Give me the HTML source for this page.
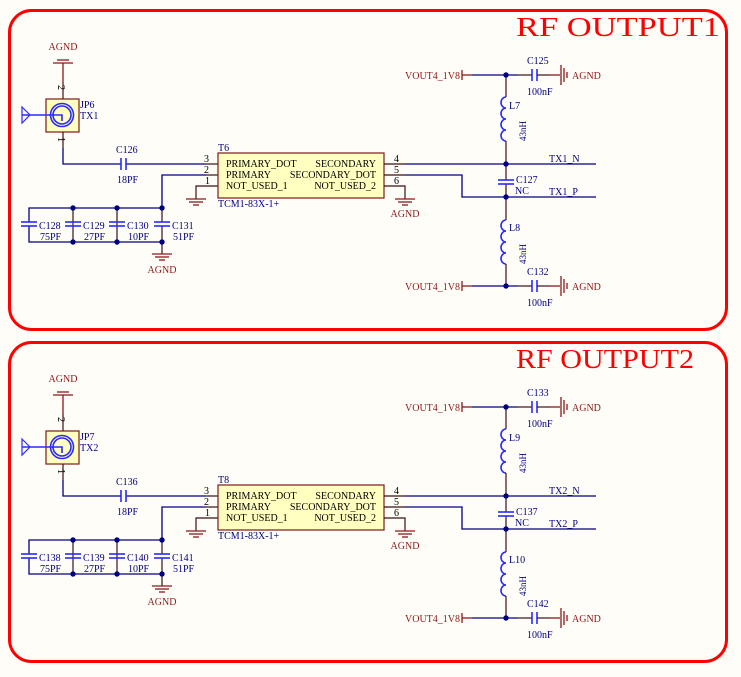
<!DOCTYPE html>
<html><head><meta charset="utf-8"><style>
html,body{margin:0;padding:0;background:#fffdf8;}
svg{display:block;font-family:"Liberation Serif",serif;}
.w{stroke:#000080;stroke-width:1.3;fill:none}
.p{stroke:#3a1010;stroke-width:1.2;fill:none}
.c{stroke:#2a2aff;stroke-width:1.6;fill:none}
.g{stroke:#8b1a1a;stroke-width:1.3;fill:none}
.t{fill:#000080;font-size:10px}
.r{fill:#8b1a1a;font-size:10px}
.k{fill:#000;font-size:10px}
.j{fill:#000080}
</style></head><body>
<svg width="741" height="677" viewBox="0 0 741 677">
<defs>
<g id="sec">
<text class="r" x="63" y="50" text-anchor="middle">AGND</text>
<line class="g" x1="53" y1="63" x2="73" y2="63"/>
<line class="g" x1="57" y1="60" x2="69" y2="60"/>
<line class="g" x1="63" y1="63" x2="63" y2="82"/>
<line class="p" x1="63" y1="82" x2="63" y2="99"/>
<text class="k" x="0" y="0" font-size="8" transform="translate(58,85) rotate(90)">2</text>
<rect x="46" y="99" width="33" height="33" fill="#ffffc0" stroke="#7a1a1a" stroke-width="1.2"/>
<circle cx="62" cy="115" r="11.5" class="c"/>
<circle cx="62" cy="115" r="9" class="c" stroke-width="1.2"/>
<polyline class="c" stroke-width="1.2" points="22,115 62,115 62,121"/>
<polygon points="22,107 30,115 22,123" fill="none" stroke="#2a2aff" stroke-width="1.2"/>
<line class="p" x1="63" y1="132" x2="63" y2="148"/>
<text class="k" x="0" y="0" font-size="8" transform="translate(58,137) rotate(90)">1</text>
<polyline class="w" points="63,148 63,164 121,164"/>
<line class="w" x1="126" y1="164" x2="206" y2="164"/>
<line class="c" x1="121" y1="158" x2="121" y2="170"/>
<line class="c" x1="126" y1="158" x2="126" y2="170"/>
<line class="p" x1="206" y1="164" x2="218" y2="164"/>
<text class="k" x="204" y="162">3</text>
<polyline class="w" points="162,208 162,175 206,175"/>
<line class="p" x1="206" y1="175" x2="218" y2="175"/>
<text class="k" x="204" y="173">2</text>
<polyline class="p" points="218,186 196,186 196,199"/>
<text class="k" x="205" y="184">1</text>
<line class="g" x1="186" y1="199" x2="206" y2="199"/>
<line class="g" x1="189" y1="202" x2="203" y2="202"/>
<line class="g" x1="193" y1="205" x2="199" y2="205"/>
<polyline class="w" points="29,222 29,208 162,208"/>
<polyline class="w" points="29,226 29,242 162,242"/>
<line class="p" x1="73" y1="208" x2="73" y2="242"/>
<line class="p" x1="117" y1="208" x2="117" y2="242"/>
<line class="p" x1="162" y1="208" x2="162" y2="222"/>
<line class="p" x1="162" y1="226" x2="162" y2="254"/>
<g class="c" stroke-width="1.4">
<line x1="21" y1="222" x2="37" y2="222"/><line x1="21" y1="226" x2="37" y2="226"/>
<line x1="65" y1="222" x2="81" y2="222"/><line x1="65" y1="226" x2="81" y2="226"/>
<line x1="109" y1="222" x2="125" y2="222"/><line x1="109" y1="226" x2="125" y2="226"/>
<line x1="154" y1="222" x2="170" y2="222"/><line x1="154" y1="226" x2="170" y2="226"/>
</g>
<circle class="j" cx="73" cy="208" r="2.7"/><circle class="j" cx="117" cy="208" r="2.7"/><circle class="j" cx="162" cy="208" r="2.7"/>
<circle class="j" cx="73" cy="242" r="2.7"/><circle class="j" cx="117" cy="242" r="2.7"/><circle class="j" cx="162" cy="242" r="2.7"/>
<line class="g" x1="152" y1="254" x2="172" y2="254"/>
<line class="g" x1="155" y1="257" x2="169" y2="257"/>
<line class="g" x1="159" y1="260" x2="165" y2="260"/>
<text class="r" x="162" y="273" text-anchor="middle">AGND</text>
<rect x="218" y="153" width="166" height="45" fill="#ffffc0" stroke="#7a1a1a" stroke-width="1.2"/>
<text class="k" x="226" y="167">PRIMARY_DOT</text>
<text class="k" x="226" y="178">PRIMARY</text>
<text class="k" x="226" y="189">NOT_USED_1</text>
<text class="k" x="376" y="167" text-anchor="end">SECONDARY</text>
<text class="k" x="376" y="178" text-anchor="end">SECONDARY_DOT</text>
<text class="k" x="376" y="189" text-anchor="end">NOT_USED_2</text>
<line class="p" x1="384" y1="164" x2="405" y2="164"/>
<line class="p" x1="384" y1="175" x2="405" y2="175"/>
<polyline class="p" points="384,186 405,186 405,199"/>
<text class="k" x="394" y="162">4</text>
<text class="k" x="394" y="173">5</text>
<text class="k" x="394" y="184">6</text>
<line class="g" x1="395" y1="199" x2="415" y2="199"/>
<line class="g" x1="398" y1="202" x2="412" y2="202"/>
<line class="g" x1="402" y1="205" x2="408" y2="205"/>
<text class="r" x="405" y="217" text-anchor="middle">AGND</text>
<line class="w" x1="405" y1="164" x2="596" y2="164"/>
<polyline class="w" points="405,175 462,175 462,197 596,197"/>
<line class="p" x1="506" y1="75" x2="506" y2="97"/>
<path class="c" stroke-width="1.5" d="M506,97 a5,5.5 0 1,0 0,11 a5,5.5 0 1,0 0,11 a5,5.5 0 1,0 0,11 a5,5.5 0 1,0 0,11"/>
<line class="p" x1="506" y1="141" x2="506" y2="164"/>
<line class="p" x1="506" y1="164" x2="506" y2="180"/>
<line class="p" x1="506" y1="184" x2="506" y2="197"/>
<line class="c" stroke-width="1.4" x1="498" y1="180" x2="514" y2="180"/>
<line class="c" stroke-width="1.4" x1="498" y1="184" x2="514" y2="184"/>
<line class="p" x1="506" y1="197" x2="506" y2="220"/>
<path class="c" stroke-width="1.5" d="M506,220 a5,5.5 0 1,0 0,11 a5,5.5 0 1,0 0,11 a5,5.5 0 1,0 0,11 a5,5.5 0 1,0 0,11"/>
<line class="p" x1="506" y1="264" x2="506" y2="286"/>
<circle class="j" cx="506" cy="75" r="2.7"/><circle class="j" cx="506" cy="164" r="2.7"/>
<circle class="j" cx="506" cy="197" r="2.7"/><circle class="j" cx="506" cy="286" r="2.7"/>
<g id="vrow">
<line class="g" x1="462" y1="70" x2="462" y2="80"/>
<line class="g" x1="462" y1="75" x2="472" y2="75"/>
<line class="w" x1="472" y1="75" x2="518" y2="75" stroke="#5050b0"/>
<line class="p" x1="518" y1="75" x2="532" y2="75" stroke="#555"/>
<line class="c" x1="532" y1="69" x2="532" y2="81"/>
<line class="c" x1="537" y1="69" x2="537" y2="81"/>
<line class="p" x1="537" y1="75" x2="550" y2="75" stroke="#555"/>
<line class="g" x1="550" y1="75" x2="560" y2="75"/>
<line class="g" x1="561" y1="65" x2="561" y2="85"/>
<line class="g" x1="564" y1="68" x2="564" y2="82"/>
<line class="g" x1="567" y1="72" x2="567" y2="78"/>
<text class="r" x="572" y="79">AGND</text>
<text class="r" x="460" y="79" text-anchor="end">VOUT4_1V8</text>
</g>
<use href="#vrow" transform="translate(0,211)"/>
<text x="0" y="0" font-size="9" transform="translate(526,141) rotate(-90)" style="fill:#000080">43nH</text>
<text x="0" y="0" font-size="9" transform="translate(526,264) rotate(-90)" style="fill:#000080">43nH</text>
<rect x="9.5" y="10.5" width="717" height="319" rx="22" fill="none" stroke="#f00" stroke-width="3"/>
</g>
</defs>

<use href="#sec"/>
<use href="#sec" transform="translate(0,332)"/>

<text x="516" y="36" font-size="27" fill="#f00" textLength="204" lengthAdjust="spacingAndGlyphs">RF OUTPUT1</text>
<text class="t" x="80" y="108">JP6</text><text class="t" x="80" y="119">TX1</text>
<text class="t" x="116" y="153">C126</text><text class="t" x="117" y="183">18PF</text>
<text class="t" x="218" y="151">T6</text><text class="t" x="218" y="207">TCM1-83X-1+</text>
<text class="t" x="39" y="229">C128</text><text class="t" x="40" y="240">75PF</text>
<text class="t" x="83" y="229">C129</text><text class="t" x="84" y="240">27PF</text>
<text class="t" x="127" y="229">C130</text><text class="t" x="128" y="240">10PF</text>
<text class="t" x="172" y="229">C131</text><text class="t" x="173" y="240">51PF</text>
<text class="t" x="527" y="64">C125</text><text class="t" x="527" y="95">100nF</text>
<text class="t" x="509" y="109">L7</text>
<text class="t" x="516" y="183">C127</text><text class="t" x="515" y="194">NC</text>
<text class="t" x="549" y="162">TX1_N</text><text class="t" x="549" y="195">TX1_P</text>
<text class="t" x="509" y="231">L8</text>
<text class="t" x="527" y="275">C132</text><text class="t" x="527" y="306">100nF</text>

<text x="516" y="368" font-size="27" fill="#f00" textLength="178" lengthAdjust="spacingAndGlyphs">RF OUTPUT2</text>
<text class="t" x="80" y="440">JP7</text><text class="t" x="80" y="451">TX2</text>
<text class="t" x="116" y="485">C136</text><text class="t" x="117" y="515">18PF</text>
<text class="t" x="218" y="483">T8</text><text class="t" x="218" y="539">TCM1-83X-1+</text>
<text class="t" x="39" y="561">C138</text><text class="t" x="40" y="572">75PF</text>
<text class="t" x="83" y="561">C139</text><text class="t" x="84" y="572">27PF</text>
<text class="t" x="127" y="561">C140</text><text class="t" x="128" y="572">10PF</text>
<text class="t" x="172" y="561">C141</text><text class="t" x="173" y="572">51PF</text>
<text class="t" x="527" y="396">C133</text><text class="t" x="527" y="427">100nF</text>
<text class="t" x="509" y="441">L9</text>
<text class="t" x="516" y="515">C137</text><text class="t" x="515" y="526">NC</text>
<text class="t" x="549" y="494">TX2_N</text><text class="t" x="549" y="527">TX2_P</text>
<text class="t" x="509" y="563">L10</text>
<text class="t" x="527" y="607">C142</text><text class="t" x="527" y="638">100nF</text>
</svg>
</body></html>
